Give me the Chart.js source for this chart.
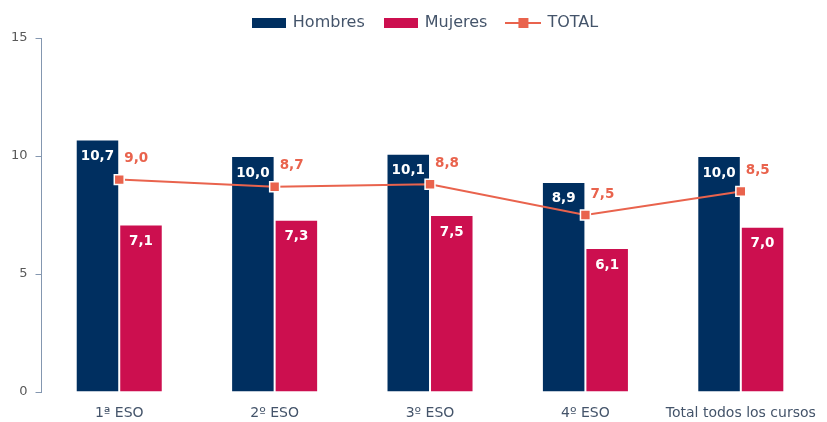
<!DOCTYPE html>
<html><head><meta charset="utf-8">
<script src="https://cdn.jsdelivr.net/npm/chart.js@4/dist/chart.umd.min.js"></script>
<style>html,body{margin:0;padding:0;background:#fff}#wrap{width:827px;height:422px}</style>
</head><body><div id="wrap"><canvas id="c" width="827" height="422"></canvas></div>
<script>
const categories = ['1ª ESO','2º ESO','3º ESO','4º ESO','Total todos los cursos'];
const hombres = [10.7, 10.0, 10.1, 8.9, 10.0];
const mujeres = [7.1, 7.3, 7.5, 6.1, 7.0];
const total = [9.0, 8.7, 8.8, 7.5, 8.5];
const yTicks = [0, 5, 10, 15];

const NAVY = '#002F60', CRIMSON = '#CC0F4F', ORANGE = '#E9634D';
const FONT = '"DejaVu Sans",Verdana,sans-serif';

function rectIcon(color){const c=document.createElement('canvas');c.width=34;c.height=10;const x=c.getContext('2d');x.fillStyle=color;x.fillRect(0,0,34,10);return c;}
function lineIcon(){const c=document.createElement('canvas');c.width=36;c.height=12;const x=c.getContext('2d');x.strokeStyle=ORANGE;x.lineWidth=2;x.beginPath();x.moveTo(0,6);x.lineTo(36,6);x.stroke();x.fillStyle=ORANGE;x.fillRect(13,1,10,10);return c;}

const fmt = v => v.toFixed(1).replace('.', ',');

const labelPlugin = {
  id:'labels',
  afterLayout(chart){
    const lg = chart.legend;
    if (lg) { lg.left += 12; lg.right += 12; lg.top += 3; lg.bottom += 3; }
  },
  afterDatasetsDraw(chart){
    const ctx = chart.ctx;
    ctx.save();
    ctx.font = 'bold 13.5px ' + FONT;
    chart.data.datasets.forEach((ds, i) => {
      const meta = chart.getDatasetMeta(i);
      meta.data.forEach((el, j) => {
        const v = ds.data[j];
        if (ds.type === 'line') {
          ctx.fillStyle = ORANGE; ctx.textAlign = 'left'; ctx.textBaseline = 'middle';
          ctx.fillText(fmt(v), el.x + 5, el.y - 21);
        } else {
          ctx.fillStyle = '#fff'; ctx.textAlign = 'center'; ctx.textBaseline = 'middle';
          ctx.fillText(fmt(v), el.x, el.y + 17);
        }
      });
    });
    ctx.restore();
  }
};

new Chart(document.getElementById('c'), {
  data: {
    labels: categories,
    datasets: [
      {type:'line', label:'TOTAL', data: total, borderColor: ORANGE, borderWidth: 2, backgroundColor: ORANGE,
       pointStyle:'rect', pointRadius: 7, pointBorderColor:'#fff', pointBorderWidth:1.5, pointBackgroundColor: ORANGE, order: 0},
      {type:'bar', label:'Hombres', data: hombres, backgroundColor: NAVY, borderColor:'#fff', borderWidth:1, order: 1,
       categoryPercentage: 0.56, barPercentage: 1},
      {type:'bar', label:'Mujeres', data: mujeres, backgroundColor: CRIMSON, borderColor:'#fff', borderWidth:1, order: 1,
       categoryPercentage: 0.56, barPercentage: 1}
    ]
  },
  options: {
    responsive: false, animation: false,
    layout: { padding: { left: 3, right: 3, top: -8, bottom: 0 } },
    plugins: {
      tooltip: { enabled: false },
      legend: {
        position: 'top',
        labels: {
          usePointStyle: true,
          pointStyleWidth: 32,
          boxHeight: 10,
          font: { family: FONT, size: 16 },
          color: '#44546A',
          padding: 20,
          generateLabels(chart){
            const order = [1,2,0];
            return order.map(i => {
              const ds = chart.data.datasets[i];
              return { text: ds.label, datasetIndex: i, pointStyle: i===0 ? lineIcon() : rectIcon(i===1?NAVY:CRIMSON),
                       fillStyle: 'transparent', strokeStyle: 'transparent', lineWidth: 0, hidden: false, fontColor:'#44546A' };
            });
          }
        }
      }
    },
    scales: {
      x: {
        grid: { display: false, drawTicks: false },
        border: { display: false },
        ticks: { color: '#44546A', font: { family: FONT, size: 14 }, padding: 13, maxRotation: 0, autoSkip: false },
        afterFit(scale){ scale.height = 30; scale.paddingRight = 0; scale.paddingLeft = 0; }
      },
      y: {
        min: 0, max: 15,
        afterBuildTicks(axis){ axis.ticks = yTicks.map(v => ({value: v})); },
        grid: { display: true, drawOnChartArea: false, drawTicks: true, tickLength: 6, color: '#8497B0' },
        border: { display: true, color: '#8497B0' },
        ticks: { color: '#595959', font: { family: FONT, size: 13 }, padding: 8 }
      }
    }
  },
  plugins: [labelPlugin]
});
</script></body></html>
